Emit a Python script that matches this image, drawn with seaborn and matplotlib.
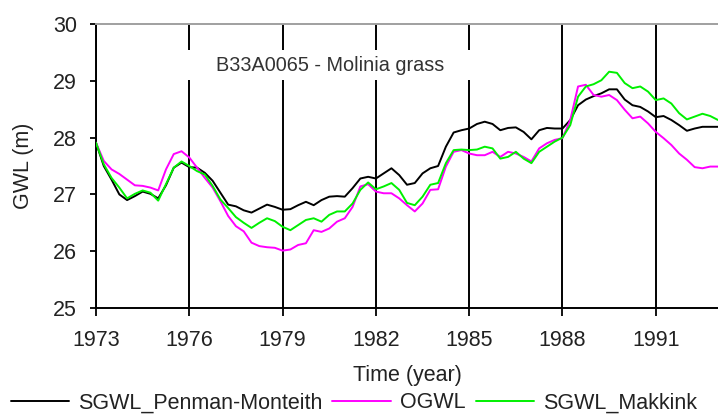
import numpy as np
import pandas as pd
import matplotlib
matplotlib.use("Agg")
import matplotlib.pyplot as plt
from matplotlib.patches import Rectangle
import seaborn as sns

# Quarterly time axis (decimal years)
years = [1973.0 + 0.25 * i for i in range(81)]

# Simulated groundwater level, Penman-Monteith evapotranspiration (m)
sgwl_penman_monteith = [
    27.91, 27.50, 27.26, 27.00, 26.90, 26.97, 27.05, 27.01, 26.93, 27.16,
    27.47, 27.56, 27.48, 27.47, 27.38, 27.24, 27.03, 26.82, 26.79, 26.72,
    26.68, 26.75, 26.82, 26.78, 26.73, 26.74, 26.81, 26.87, 26.81, 26.90,
    26.96, 26.97, 26.96, 27.11, 27.28, 27.31, 27.28, 27.37, 27.46, 27.34,
    27.17, 27.20, 27.37, 27.46, 27.50, 27.84, 28.09, 28.13, 28.16, 28.24,
    28.28, 28.24, 28.13, 28.17, 28.18, 28.10, 27.97, 28.13, 28.17, 28.16,
    28.16, 28.31, 28.57, 28.67, 28.73, 28.78, 28.85, 28.85, 28.67, 28.57,
    28.54, 28.46, 28.36, 28.38, 28.31, 28.22, 28.12, 28.16, 28.19, 28.19,
    28.19,
]

# Observed groundwater level (m)
ogwl = [
    27.91, 27.59, 27.44, 27.36, 27.26, 27.16, 27.15, 27.12, 27.07, 27.44,
    27.71, 27.76, 27.65, 27.47, 27.29, 27.12, 26.88, 26.62, 26.44, 26.35,
    26.15, 26.09, 26.07, 26.06, 26.01, 26.03, 26.11, 26.14, 26.37, 26.34,
    26.40, 26.52, 26.58, 26.78, 27.14, 27.18, 27.05, 27.02, 27.02, 26.93,
    26.81, 26.70, 26.84, 27.08, 27.09, 27.49, 27.75, 27.78, 27.72, 27.69,
    27.69, 27.75, 27.66, 27.75, 27.72, 27.66, 27.58, 27.81, 27.90, 27.96,
    27.99, 28.31, 28.90, 28.93, 28.75, 28.72, 28.75, 28.66, 28.49, 28.34,
    28.37, 28.25, 28.10, 27.99, 27.87, 27.72, 27.61, 27.48, 27.46, 27.49,
    27.49,
]

# Simulated groundwater level, Makkink evapotranspiration (m)
sgwl_makkink = [
    27.91, 27.53, 27.29, 27.12, 26.93, 27.01, 27.07, 27.03, 26.89, 27.18,
    27.47, 27.58, 27.50, 27.41, 27.35, 27.15, 26.91, 26.76, 26.60, 26.50,
    26.41, 26.50, 26.58, 26.53, 26.43, 26.37, 26.46, 26.55, 26.58, 26.52,
    26.64, 26.70, 26.70, 26.84, 27.08, 27.21, 27.09, 27.14, 27.20, 27.08,
    26.85, 26.81, 26.96, 27.17, 27.20, 27.55, 27.78, 27.79, 27.78, 27.79,
    27.84, 27.81, 27.63, 27.66, 27.75, 27.63, 27.55, 27.75, 27.84, 27.93,
    28.00, 28.22, 28.72, 28.90, 28.94, 29.01, 29.16, 29.14, 28.96, 28.87,
    28.90, 28.81, 28.66, 28.69, 28.60, 28.43, 28.32, 28.37, 28.42, 28.38,
    28.31,
]

series_names = ["SGWL_Penman-Monteith", "OGWL", "SGWL_Makkink"]
series_colors = ["#000000", "#ff00ff", "#00f000"]
x_ticks = [1973, 1976, 1979, 1982, 1985, 1988, 1991]
y_ticks = [25, 26, 27, 28, 29, 30]

df = pd.DataFrame({
    "year": years * 3,
    "gwl": sgwl_penman_monteith + ogwl + sgwl_makkink,
    "series": sum([[n] * len(years) for n in series_names], []),
})

sns.set_theme(style="white")
plt.rcParams["font.family"] = ["Liberation Sans", "DejaVu Sans"]

text_color = "#222222"
fig = plt.figure(figsize=(7.18, 4.16), dpi=100)
ax = fig.add_axes([0.1337, 0.2596, 0.8663, 0.6827])
ax.set_axisbelow(True)

sns.lineplot(
    data=df, x="year", y="gwl", hue="series", hue_order=series_names,
    palette=dict(zip(series_names, series_colors)), linewidth=1.4,
    ax=ax, legend=True, zorder=3,
)

ax.set_xlim(1973, 1993)
ax.set_ylim(25, 30)
ax.set_xticks(x_ticks)
ax.set_yticks(y_ticks)
ax.tick_params(axis="x", direction="out", length=6, width=1.3, pad=10,
               labelsize=15.5, labelcolor=text_color, color="black", bottom=True)
ax.tick_params(axis="y", direction="out", length=4.5, width=1.3, pad=9,
               labelsize=15.5, labelcolor=text_color, color="black", left=True)

ax.grid(axis="x", color="black", linewidth=1.4)
ax.grid(axis="y", visible=False)

for side in ("left", "bottom"):
    ax.spines[side].set_color("black")
    ax.spines[side].set_linewidth(1.4)
ax.spines["top"].set_color("#a0a0a0")
ax.spines["top"].set_linewidth(1.4)
ax.spines["right"].set_visible(False)

ax.set_xlabel("Time (year)", fontsize=15.5, color=text_color, labelpad=10)
ax.set_ylabel("GWL (m)", fontsize=15.5, color=text_color, labelpad=14)

# White panel behind the station title, interrupting the grid lines
ax.add_patch(Rectangle((0.143, 0.803), 0.466, 0.105, transform=ax.transAxes,
                       facecolor="white", edgecolor="none", zorder=1))
ax.text(0.3765, 0.855, "B33A0065 - Molinia grass", transform=ax.transAxes,
        ha="center", va="center", fontsize=14.3, color="#333333", zorder=4)

handles, labels = ax.get_legend_handles_labels()
ax.legend(handles, labels, loc="center", bbox_to_anchor=(0.493, 0.032),
          bbox_transform=fig.transFigure, ncol=3, frameon=False,
          fontsize=15.5, handlelength=2.7, handletextpad=0.45,
          columnspacing=0.45, labelcolor=text_color)

fig.savefig("out.png", dpi=100)
